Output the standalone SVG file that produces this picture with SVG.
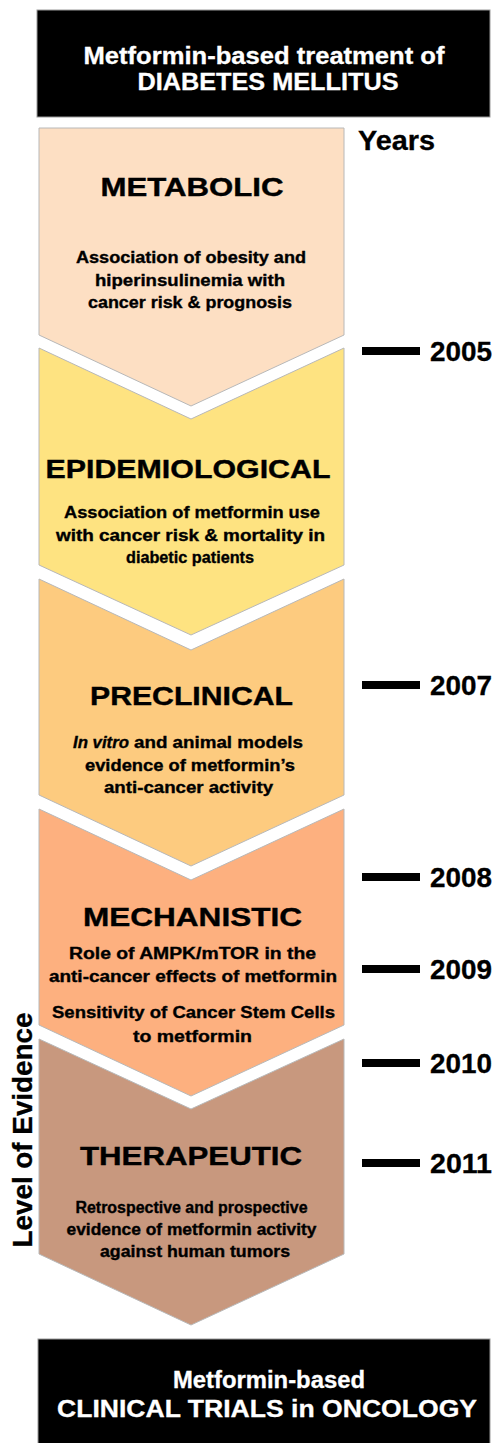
<svg xmlns="http://www.w3.org/2000/svg" width="498" height="1443" viewBox="0 0 498 1443">
<style>
text{font-family:"Liberation Sans",Arial,sans-serif;font-weight:bold;}
.box{fill:#000;stroke:#999;stroke-width:1;}
.wt{fill:#fff;font-size:23px;text-anchor:middle;stroke:#fff;stroke-width:0.3;}
.chev{stroke:#b8b8b8;stroke-width:1;}
.ttl{fill:#000;font-size:26px;text-anchor:middle;stroke:#000;stroke-width:0.4;}
.sub{fill:#000;font-size:16px;text-anchor:middle;stroke:#000;stroke-width:0.35;}
.yr{fill:#000;font-size:27px;stroke:#000;stroke-width:0.3;}
.bar{fill:#000;}
</style>
<g id="top-box">
<rect class="box" x="37" y="10" width="453" height="107"/>
<text class="wt" x="264" y="64" textLength="361" lengthAdjust="spacingAndGlyphs">Metformin-based treatment of</text>
<text class="wt" x="268" y="90" textLength="261" lengthAdjust="spacingAndGlyphs">DIABETES MELLITUS</text>
</g>
<g id="metabolic">
<polygon class="chev" fill="#FDDFC3" points="39,128 344,128 344,335 191,406 39,335"/>
<text class="ttl" x="192" y="196" textLength="183" lengthAdjust="spacingAndGlyphs">METABOLIC</text>
<text class="sub" x="191" y="263" textLength="230" lengthAdjust="spacingAndGlyphs">Association of obesity and</text>
<text class="sub" x="190" y="286" textLength="190" lengthAdjust="spacingAndGlyphs">hiperinsulinemia with</text>
<text class="sub" x="190" y="308" textLength="204" lengthAdjust="spacingAndGlyphs">cancer risk &amp; prognosis</text>
</g>
<g id="epidemiological">
<polygon class="chev" fill="#FEE381" points="39,348 191,419 344,348 344,565 191,635 39,565"/>
<text class="ttl" x="188" y="478" textLength="285" lengthAdjust="spacingAndGlyphs">EPIDEMIOLOGICAL</text>
<text class="sub" x="192" y="518" textLength="256" lengthAdjust="spacingAndGlyphs">Association of metformin use</text>
<text class="sub" x="190.5" y="541" textLength="269" lengthAdjust="spacingAndGlyphs">with cancer risk &amp; mortality in</text>
<text class="sub" x="190" y="563" textLength="128" lengthAdjust="spacingAndGlyphs">diabetic patients</text>
</g>
<g id="preclinical">
<polygon class="chev" fill="#FDCB7F" points="39,579 191,650 344,579 344,795 191,866 39,795"/>
<text class="ttl" x="191.5" y="705" textLength="203" lengthAdjust="spacingAndGlyphs">PRECLINICAL</text>
<text class="sub" x="73" y="748" style="text-anchor:start;font-style:italic" textLength="56" lengthAdjust="spacingAndGlyphs">In vitro</text>
<text class="sub" x="303" y="748" style="text-anchor:end" textLength="169" lengthAdjust="spacingAndGlyphs">and animal models</text>
<text class="sub" x="190" y="771" textLength="210" lengthAdjust="spacingAndGlyphs">evidence of metformin’s</text>
<text class="sub" x="188.5" y="793" textLength="169" lengthAdjust="spacingAndGlyphs">anti-cancer activity</text>
</g>
<g id="mechanistic">
<polygon class="chev" fill="#FDB07F" points="39,809 191,880 344,809 344,1025 191,1096 39,1025"/>
<text class="ttl" x="192.5" y="926" textLength="219" lengthAdjust="spacingAndGlyphs">MECHANISTIC</text>
<text class="sub" x="192.5" y="959" textLength="247" lengthAdjust="spacingAndGlyphs">Role of AMPK/mTOR in the</text>
<text class="sub" x="193" y="982" textLength="288" lengthAdjust="spacingAndGlyphs">anti-cancer effects of metformin</text>
<text class="sub" x="193.5" y="1018" textLength="283" lengthAdjust="spacingAndGlyphs">Sensitivity of Cancer Stem Cells</text>
<text class="sub" x="192.5" y="1042" textLength="119" lengthAdjust="spacingAndGlyphs">to metformin</text>
</g>
<g id="therapeutic">
<polygon class="chev" fill="#C8987E" points="39,1039 191,1109 344,1039 344,1254 191,1325 39,1254"/>
<text class="ttl" x="191" y="1165" textLength="222" lengthAdjust="spacingAndGlyphs">THERAPEUTIC</text>
<text class="sub" x="191.5" y="1213" textLength="232" lengthAdjust="spacingAndGlyphs">Retrospective and prospective</text>
<text class="sub" x="191.5" y="1235" textLength="250" lengthAdjust="spacingAndGlyphs">evidence of metformin activity</text>
<text class="sub" x="195" y="1257" textLength="190" lengthAdjust="spacingAndGlyphs">against human tumors</text>
</g>
<g id="bottom-box">
<rect class="box" x="38" y="1339" width="452" height="110"/>
<text class="wt" x="269" y="1388" textLength="192" lengthAdjust="spacingAndGlyphs">Metformin-based</text>
<text class="wt" x="267" y="1417" textLength="420" lengthAdjust="spacingAndGlyphs">CLINICAL TRIALS in ONCOLOGY</text>
</g>
<g id="timeline">
<text class="yr" x="358" y="150" font-size="25" textLength="77" lengthAdjust="spacingAndGlyphs">Years</text>
<rect class="bar" x="362" y="347" width="58" height="8"/>
<text class="yr" x="430" y="361" textLength="62" lengthAdjust="spacingAndGlyphs">2005</text>
<rect class="bar" x="362" y="681" width="58" height="8"/>
<text class="yr" x="430" y="695" textLength="62" lengthAdjust="spacingAndGlyphs">2007</text>
<rect class="bar" x="362" y="873" width="58" height="8"/>
<text class="yr" x="430" y="887" textLength="62" lengthAdjust="spacingAndGlyphs">2008</text>
<rect class="bar" x="362" y="965" width="58" height="8"/>
<text class="yr" x="430" y="979" textLength="62" lengthAdjust="spacingAndGlyphs">2009</text>
<rect class="bar" x="362" y="1059" width="58" height="8"/>
<text class="yr" x="430" y="1073" textLength="62" lengthAdjust="spacingAndGlyphs">2010</text>
<rect class="bar" x="362" y="1159" width="58" height="8"/>
<text class="yr" x="430" y="1173" textLength="62" lengthAdjust="spacingAndGlyphs">2011</text>
</g>
<g id="axis-label">
<text x="32" y="1130" transform="rotate(-90 32 1130)" style="font-size:27px;text-anchor:middle;fill:#000;stroke:#000;stroke-width:0.3" textLength="235" lengthAdjust="spacingAndGlyphs">Level of Evidence</text>
</g>
</svg>
